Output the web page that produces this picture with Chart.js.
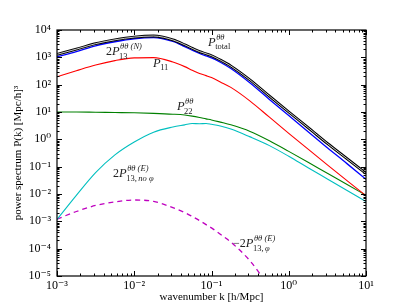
<!DOCTYPE html>
<html><head><meta charset="utf-8">
<script src="https://cdn.jsdelivr.net/npm/chart.js@4/dist/chart.umd.min.js"></script>
<style>html,body{margin:0;padding:0;background:#fff;}</style>
</head><body>
<canvas id="c" width="407" height="307"></canvas>
<script>
// wavenumber k [h/Mpc]
const kValues = [0.001, 0.00178, 0.00316, 0.00562, 0.01, 0.0178, 0.0316, 0.045, 0.0562, 0.07, 0.085, 0.1, 0.13, 0.178, 0.316, 0.562, 1, 1.78, 3.16, 5.62, 10];
// power spectra [(Mpc/h)^3]
const pTotal = [1288, 1995, 3162, 4365, 5495, 6026, 4365, 2884, 2138, 1622, 1349, 1148, 794, 479, 148, 38, 10, 2.69, 0.708, 0.2, 0.0562];
const p13N = [1047, 1622, 2630, 3715, 4786, 5248, 3802, 2455, 1820, 1380, 1122, 955, 661, 389, 115, 28.8, 7.41, 1.91, 0.49, 0.132, 0.0347];
const p11 = [195, 324, 525, 759, 955, 977, 676, 457, 339, 257, 214, 182, 126, 79.4, 25.1, 6.46, 1.66, 0.437, 0.117, 0.0316, 0.0087];
const p22 = [10.0, 10.0, 9.77, 9.55, 9.33, 8.91, 8.32, 7.76, 7.08, 6.31, 5.62, 5.13, 4.27, 3.39, 1.95, 0.891, 0.363, 0.145, 0.0575, 0.0229, 0.0089];
const p13ENoPhi = [0.00117, 0.0089, 0.0603, 0.269, 0.794, 1.82, 2.82, 3.39, 3.80, 3.72, 3.80, 3.55, 3.09, 2.40, 1.23, 0.589, 0.24, 0.0912, 0.0355, 0.0138, 0.00525];
const p13EPhiNeg = [0.0012, 0.00229, 0.0038, 0.00513, 0.00603, 0.00537, 0.00316, 0.00209, 0.00151, 0.00107, 0.000759, 0.000575, 0.000339, 0.000174, 3.55e-5, 3.98e-6, null, null, null, null, null];
// axis ticks
const xTicks = [1e-3, 1e-2, 1e-1, 1, 10];
const xTickLabels = ['10⁻³', '10⁻²', '10⁻¹', '10⁰', '10¹'];
const yTicks = [1e-5, 1e-4, 1e-3, 1e-2, 1e-1, 1, 10, 100, 1000, 10000];
const yTickLabels = ['10⁻⁵', '10⁻⁴', '10⁻³', '10⁻²', '10⁻¹', '10⁰', '10¹', '10²', '10³', '10⁴'];

// curve labels (anchored in data coordinates)
const curveLabels = [
  {k: 0.0901, p: 2600, pre: '', main: 'P', sup: 'θθ', sub: [['total', false]]},
  {k: 0.0043, p: 1216, pre: '2', main: 'P', sup: 'θθ (N)', sub: [['13', false]]},
  {k: 0.0175, p: 461, pre: '', main: 'P', sup: '', sub: [['11', false]]},
  {k: 0.0357, p: 11.8, pre: '', main: 'P', sup: 'θθ', sub: [['22', false]]},
  {k: 0.00531, p: 0.0418, pre: '2', main: 'P', sup: 'θθ (E)', sub: [['13,', false], ['no φ', true]]},
  {k: 0.19, p: 1.15e-4, pre: '−2', main: 'P', sup: 'θθ (E)', sub: [['13,', false], ['φ', true]]}
];

const SERIF = '"Liberation Serif", "DejaVu Serif", serif';
const toXY = arr => kValues.map((k, i) => ({x: k, y: arr[i]}));

const framePlugin = {
  id: 'frameTicks',
  afterDatasetsDraw(chart) {
    const {ctx, chartArea: a, scales: {x, y}} = chart;
    ctx.save();
    ctx.strokeStyle = '#000';
    ctx.lineWidth = 1;
    ctx.beginPath();
    for (let e = -3; e <= 1; e++) {
      for (let m = 1; m <= 9; m++) {
        const v = m * Math.pow(10, e);
        if (v > 10.0001) break;
        const px = Math.round(x.getPixelForValue(v)) + 0.5;
        const L = m === 1 ? 5 : 2.5;
        ctx.moveTo(px, a.bottom); ctx.lineTo(px, a.bottom - L);
        ctx.moveTo(px, a.top); ctx.lineTo(px, a.top + L);
      }
    }
    for (let e = -5; e <= 4; e++) {
      for (let m = 1; m <= 9; m++) {
        const v = m * Math.pow(10, e);
        if (v > 10000.1) break;
        const py = Math.round(y.getPixelForValue(v)) + 0.5;
        const L = m === 1 ? 5 : 2.5;
        ctx.moveTo(a.left, py); ctx.lineTo(a.left + L, py);
        ctx.moveTo(a.right, py); ctx.lineTo(a.right - L, py);
      }
    }
    ctx.stroke();
    ctx.lineWidth = 1.2;
    ctx.strokeRect(a.left, a.top, a.right - a.left, a.bottom - a.top);

    ctx.fillStyle = '#222';
    ctx.textBaseline = 'alphabetic';
    ctx.textAlign = 'left';
    curveLabels.forEach(l => {
      let cx = x.getPixelForValue(l.k);
      const cy = y.getPixelForValue(l.p);
      if (l.pre) {
        ctx.font = '12px ' + SERIF;
        ctx.fillText(l.pre, cx, cy);
        cx += ctx.measureText(l.pre).width;
      }
      ctx.font = 'italic 12.5px ' + SERIF;
      ctx.fillText(l.main, cx, cy);
      cx += ctx.measureText(l.main).width + 0.5;
      if (l.sup) {
        ctx.font = 'italic 8.5px ' + SERIF;
        ctx.fillText(l.sup, cx, cy - 6);
      }
      let sx = cx - 1;
      l.sub.forEach(([t, it]) => {
        ctx.font = (it ? 'italic ' : '') + '8.5px ' + SERIF;
        ctx.fillText(t, sx, cy + 3.5);
        sx += ctx.measureText(t).width + (it ? 0 : 1.5);
      });
    });
    ctx.restore();
  }
};

new Chart(document.getElementById('c'), {
  type: 'line',
  data: {
    datasets: [
      {label: 'total-core', data: toXY(pTotal), borderColor: '#ffffff', borderWidth: 0.8},
      {label: 'P_total', data: toXY(pTotal), borderColor: '#000000', borderWidth: 2.8},
      {label: '2P13(N)', data: toXY(p13N), borderColor: '#0000ff', borderWidth: 1.3},
      {label: 'P11', data: toXY(p11), borderColor: '#ff0000', borderWidth: 1.1},
      {label: 'P22', data: toXY(p22), borderColor: '#008000', borderWidth: 1.1},
      {label: '2P13(E) no phi', data: toXY(p13ENoPhi), borderColor: '#00bfbf', borderWidth: 1.1},
      {label: '-2P13(E) phi', data: toXY(p13EPhiNeg), borderColor: '#bf00bf', borderWidth: 1.3, borderDash: [5, 4]}
    ]
  },
  options: {
    responsive: false,
    animation: false,
    devicePixelRatio: 1,
    elements: {
      point: {radius: 0},
      line: {cubicInterpolationMode: 'monotone', fill: false}
    },
    layout: {padding: {left: 0, top: 30, right: 41, bottom: 0}},
    plugins: {legend: {display: false}, tooltip: {enabled: false}},
    scales: {
      x: {
        type: 'logarithmic', position: 'bottom', min: 1e-3, max: 10,
        grid: {display: false, drawTicks: false},
        border: {display: false},
        afterBuildTicks: s => { s.ticks = xTicks.map(v => ({value: v, major: true})); },
        afterFit: s => { s.height = 31; },
        ticks: {
          autoSkip: false, maxRotation: 0, padding: 3, color: '#000',
          font: {family: SERIF, size: 12},
          callback: v => { const i = xTicks.findIndex(t => Math.abs(Math.log10(t) - Math.log10(v)) < 1e-6); return i >= 0 ? xTickLabels[i] : ''; }
        },
        title: {display: true, text: 'wavenumber k [h/Mpc]', color: '#000', font: {family: SERIF, size: 11}, padding: {top: 0, bottom: 3}}
      },
      y: {
        type: 'logarithmic', position: 'left', min: 1e-5, max: 1e4,
        grid: {display: false, drawTicks: false},
        border: {display: false},
        afterBuildTicks: s => { s.ticks = yTicks.map(v => ({value: v, major: true})); },
        afterFit: s => { s.width = 57; },
        ticks: {
          autoSkip: false, padding: 6, color: '#000',
          font: {family: SERIF, size: 12},
          callback: v => { const i = yTicks.findIndex(t => Math.abs(Math.log10(t) - Math.log10(v)) < 1e-6); return i >= 0 ? yTickLabels[i] : ''; }
        },
        title: {display: true, text: 'power spectrum P(k) [Mpc/h]³', color: '#000', font: {family: SERIF, size: 11}, padding: {top: 12, bottom: 0}}
      }
    }
  },
  plugins: [framePlugin]
});
</script>
</body></html>
